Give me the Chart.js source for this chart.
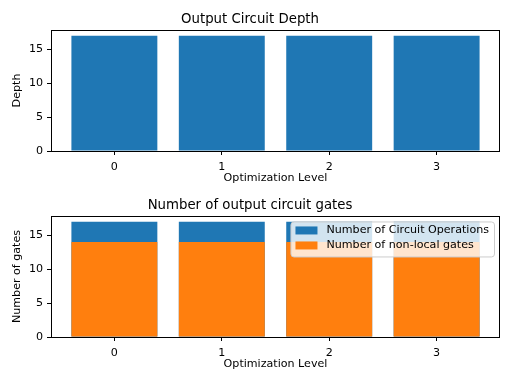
<!DOCTYPE html>
<html>
<head>
<meta charset="utf-8">
<script src="https://cdn.jsdelivr.net/npm/chart.js@4.4.1/dist/chart.umd.min.js"></script>
<style>
    body { margin: 0; background: #fff; }
    #wrap { position: relative; width: 512px; height: 384px; }
    canvas { position: absolute; left: 0; }
</style>
</head>
<body>
<div id="wrap">
    <canvas id="chartDepth" width="512" height="192" style="top:0px"></canvas>
    <canvas id="chartGates" width="512" height="192" style="top:186px"></canvas>
</div>
<script>
// ============================
// DATA
// ============================
const levels = [0, 1, 2, 3];
const depth = [17, 17, 17, 17];
const circuitOps = [17, 17, 17, 17];
const nonLocalGates = [14, 14, 14, 14];
const yTicks = [0, 5, 10, 15];

const BLUE = "#1f77b4";
const ORANGE = "#ff7f0e";

Chart.defaults.font.family = "'DejaVu Sans'";
Chart.defaults.font.size = 11.1;
Chart.defaults.color = "#000";
Chart.defaults.animation = false;

// ============================
// PLUGINS
// ============================
// full box round the plot area, like matplotlib spines
const frame = {
    id: "frame",
    afterDraw(chart) {
        const { ctx, chartArea: a } = chart;
        ctx.save();
        ctx.strokeStyle = "#000";
        ctx.lineWidth = 1;
        ctx.strokeRect(Math.round(a.left) + 0.5, Math.round(a.top) + 0.5,
            Math.round(a.right - a.left) - 1, Math.round(a.bottom - a.top));
        ctx.restore();
    }
};

// legend drawn inside the plot area, upper right
const innerLegend = {
    id: "innerLegend",
    afterDatasetsDraw(chart) {
        const { ctx, chartArea: a } = chart;
        const items = chart.data.datasets;
        ctx.save();
        ctx.font = "11.1px 'DejaVu Sans'";
        const textW = Math.max(...items.map(d => ctx.measureText(d.label).width));
        const w = 5 + 22 + 9 + textW + 5;
        const h = 35;
        const x = a.right - 6 - w;
        const y = a.top + 5.5;
        ctx.beginPath();
        ctx.roundRect(x + 0.5, y + 0.5, w, h, 3);
        ctx.fillStyle = "rgba(255,255,255,0.8)";
        ctx.fill();
        ctx.strokeStyle = "#cccccc";
        ctx.lineWidth = 1;
        ctx.stroke();
        items.forEach((d, i) => {
            const cy = y + 9 + i * 15;
            ctx.fillStyle = d.backgroundColor;
            ctx.fillRect(x + 5, cy - 4, 22, 8);
            ctx.fillStyle = "#000";
            ctx.textBaseline = "middle";
            ctx.fillText(d.label, x + 36, cy);
        });
        ctx.restore();
    }
};

// ============================
// COMMON OPTIONS
// ============================
function makeOptions(title, yLabel) {
    return {
        responsive: false,
        layout: { padding: { left: 0, right: 12, top: 0, bottom: 0 } },
        plugins: {
            legend: { display: false },
            tooltip: { enabled: false },
            title: {
                display: true,
                text: title,
                font: { size: 13.3, weight: "normal" },
                padding: { top: 12, bottom: 2 }
            }
        },
        scales: {
            x: {
                type: "linear",
                offset: false,
                min: -0.59,
                max: 3.59,
                afterBuildTicks: s => { s.ticks = levels.map(v => ({ value: v })); },
                afterFit: s => { s.height = 41; },
                grid: { offset: false, drawOnChartArea: false, drawTicks: true, tickLength: 4, color: "#000" },
                border: { display: false },
                ticks: { padding: 5, maxRotation: 0 },
                title: { display: true, text: "Optimization Level", padding: { top: 0, bottom: 7 } }
            },
            y: {
                min: 0,
                max: 17.85,
                afterBuildTicks: s => { s.ticks = yTicks.map(v => ({ value: v })); },
                afterFit: s => { s.width = 51; },
                grid: { drawOnChartArea: false, drawTicks: true, tickLength: 4, color: "#000" },
                border: { display: false },
                ticks: { padding: 4 },
                title: { display: true, text: yLabel, padding: { top: 10, bottom: 0 } }
            }
        }
    };
}

const barStyle = { barPercentage: 0.8, categoryPercentage: 1, borderWidth: 0, inflateAmount: 0 };

// ============================
// TOP: CIRCUIT DEPTH
// ============================
new Chart(document.getElementById("chartDepth"), {
    type: "bar",
    data: {
        datasets: [{
            label: "Depth",
            data: levels.map((l, i) => ({ x: l, y: depth[i] })),
            backgroundColor: BLUE,
            ...barStyle
        }]
    },
    options: makeOptions("Output Circuit Depth", "Depth"),
    plugins: [frame]
});

// ============================
// BOTTOM: GATE COUNTS
// ============================
const gateOptions = makeOptions("Number of output circuit gates", "Number of gates");
gateOptions.grouped = false;

new Chart(document.getElementById("chartGates"), {
    type: "bar",
    data: {
        datasets: [{
            label: "Number of Circuit Operations",
            data: levels.map((l, i) => ({ x: l, y: circuitOps[i] })),
            backgroundColor: BLUE,
            order: 2,
            ...barStyle
        }, {
            label: "Number of non-local gates",
            data: levels.map((l, i) => ({ x: l, y: nonLocalGates[i] })),
            backgroundColor: ORANGE,
            order: 1,
            ...barStyle
        }]
    },
    options: gateOptions,
    plugins: [frame, innerLegend]
});
</script>
</body>
</html>
